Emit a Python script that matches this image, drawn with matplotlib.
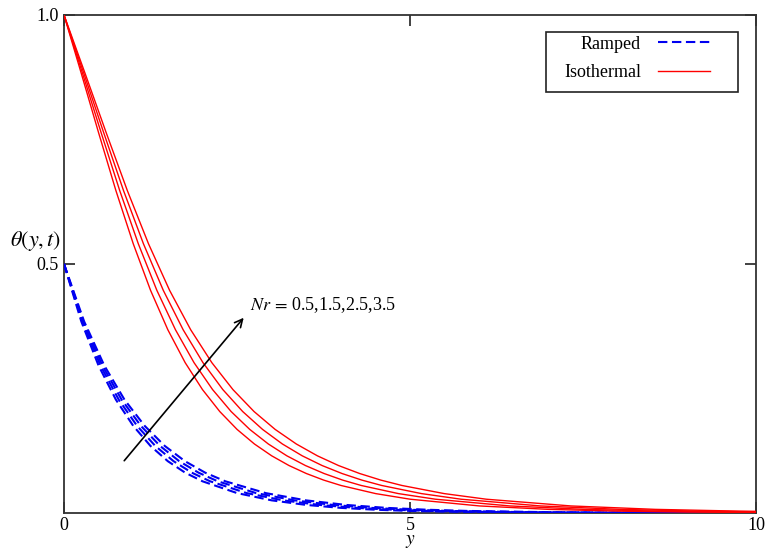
import numpy as np
import matplotlib
matplotlib.use('Agg')
import matplotlib.pyplot as plt
from matplotlib.patches import Rectangle

plt.rcParams['font.family'] = ['Liberation Serif', 'DejaVu Serif']
plt.rcParams['mathtext.fontset'] = 'stix'

# ─── data ──────────────────────────────────────────────────────
# theta levels crossed by the curves, and the y-position where each
# curve (Nr = 0.5, 1.5, 2.5, 3.5) crosses that level
nr_values = [0.5, 1.5, 2.5, 3.5]

# isothermal (solid red)
iso_theta = [1, 0.8825, 0.7634, 0.6473, 0.5407, 0.4471, 0.3679, 0.3019, 0.2478,
             0.2037, 0.1678, 0.1386, 0.1148, 0.0953, 0.0793, 0.0661, 0.0553,
             0.0390, 0.0277, 0.0142, 0.00733, 0.00379, 0.00196, 0.00101]
iso_y_nr05 = [0, 0.25, 0.5, 0.75, 1.0, 1.25, 1.5, 1.75, 2.0, 2.25, 2.5, 2.75, 3.0,
              3.25, 3.5, 3.75, 4.0, 4.5, 5.0, 6.0, 7.0, 8.0, 9.0, 10.0]
iso_y_nr15 = [0, 0.268, 0.537, 0.805, 1.073, 1.341, 1.61, 1.878, 2.146, 2.414,
              2.683, 2.951, 3.219, 3.487, 3.756, 4.024, 4.292, 4.829, 5.365,
              6.438, 7.511, 8.584, 9.657, 10.73]
iso_y_nr25 = [0, 0.287, 0.574, 0.86, 1.147, 1.434, 1.721, 2.007, 2.294, 2.581,
              2.868, 3.154, 3.441, 3.728, 4.015, 4.301, 4.588, 5.162, 5.735,
              6.882, 8.029, 9.176, 10.323, 11.47]
iso_y_nr35 = [0, 0.305, 0.61, 0.915, 1.22, 1.525, 1.83, 2.135, 2.44, 2.745, 3.05,
              3.355, 3.66, 3.965, 4.27, 4.575, 4.88, 5.49, 6.1, 7.32, 8.54,
              9.76, 10.98, 12.2]

# ramped (dashed blue)
ramp_theta = [0.5, 0.3846, 0.2958, 0.2275, 0.1750, 0.1346, 0.1040, 0.0810,
              0.0637, 0.0400, 0.0254, 0.0162, 0.0103, 0.0066, 0.0042, 0.0017,
              0.0007, 0.00028, 0.00011, 0.00005]
ramp_y_nr05 = [0, 0.25, 0.5, 0.75, 1.0, 1.25, 1.5, 1.75, 2.0, 2.5, 3.0, 3.5, 4.0,
               4.5, 5.0, 6.0, 7.0, 8.0, 9.0, 10.0]
ramp_y_nr15 = [0, 0.264, 0.528, 0.791, 1.055, 1.319, 1.583, 1.846, 2.11, 2.638,
               3.165, 3.693, 4.22, 4.748, 5.275, 6.33, 7.385, 8.44, 9.495, 10.55]
ramp_y_nr25 = [0, 0.278, 0.555, 0.833, 1.11, 1.388, 1.665, 1.943, 2.22, 2.775,
               3.33, 3.885, 4.44, 4.995, 5.55, 6.66, 7.77, 8.88, 9.99, 11.1]
ramp_y_nr35 = [0, 0.291, 0.583, 0.874, 1.165, 1.456, 1.748, 2.039, 2.33, 2.913,
               3.495, 4.078, 4.66, 5.243, 5.825, 6.99, 8.155, 9.32, 10.485, 11.65]

iso_curves = [iso_y_nr05, iso_y_nr15, iso_y_nr25, iso_y_nr35]
ramp_curves = [ramp_y_nr05, ramp_y_nr15, ramp_y_nr25, ramp_y_nr35]

# ─── figure ─────────────────────────────────────────────────────
fig = plt.figure(figsize=(7.69, 5.53), dpi=100)
ax = fig.add_axes([0.0832, 0.0723, 0.9005, 0.9007])

for i, ys in enumerate(ramp_curves):
    ax.plot(ys, ramp_theta, color='#0000f0', lw=1.5, ls=(0, (4.5, 2.2)),
            label='Ramped' if i == 0 else None, zorder=3)
for i, ys in enumerate(iso_curves):
    ax.plot(ys, iso_theta, color='#ff0000', lw=1.0,
            label='Isothermal' if i == 0 else None, zorder=3)

ax.set_xlim(0, 10)
ax.set_ylim(0, 1)
ax.set_xticks([0, 5, 10])
ax.set_xticklabels(['0', '5', '10'])
ax.set_yticks([0.5, 1.0])
ax.set_yticklabels(['0.5', '1.0'])
ax.tick_params(direction='in', length=8, width=1.3, color='#333333',
               labelsize=13, top=True, right=True, pad=4)
ax.tick_params(axis='x', pad=3)
for s in ax.spines.values():
    s.set_color('#333333')
    s.set_linewidth(1.3)

ax.text(-0.004, 0.546, r'$\theta\left(y,t\right)$', transform=ax.get_yaxis_transform(),
        ha='right', va='center', fontsize=16)
ax.set_xlabel(r'$y$', fontsize=14, labelpad=-1)

# arrow + annotation for increasing Nr
ax.annotate('', xy=(2.595, 0.392), xytext=(0.87, 0.105),
            arrowprops=dict(arrowstyle='->', color='black', lw=1.2,
                            mutation_scale=14, shrinkA=0, shrinkB=0))
nr_text = ','.join(str(v) for v in nr_values)
ax.text(2.69, 0.418, r'$Nr\,=\,$' + nr_text, fontsize=13, va='center', ha='left')

# legend: handles on the right, plain square box
leg = ax.legend(loc='center right', bbox_to_anchor=(0.9335, 0.9127),
                markerfirst=False, frameon=False, fontsize=13,
                handlelength=2.9, handletextpad=0.95, labelspacing=0.65,
                borderpad=0, borderaxespad=0)
ax.add_patch(Rectangle((0.6965, 0.846), 0.2775, 0.1205, transform=ax.transAxes,
                       fill=False, edgecolor='#222222', lw=1.2, zorder=5))

fig.savefig('out.png', dpi=100)
